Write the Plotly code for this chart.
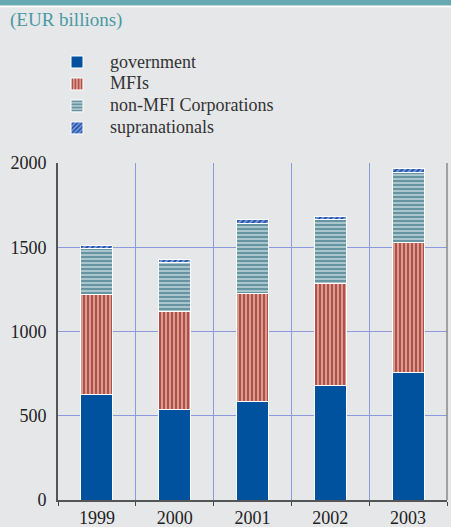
import plotly.graph_objects as go

years = ["1999", "2000", "2001", "2002", "2003"]
government = [628, 538, 585, 679, 756]
mfis = [592, 583, 643, 608, 772]
non_mfi = [273, 288, 414, 375, 416]
supranationals = [20, 19, 20, 19, 24]
series_names = ["government", "MFIs", "non-MFI Corporations", "supranationals"]

BG = "#e6e7e9"
GRID = "#8c99dc"
FONT = "Liberation Serif"
W, H = 451, 527
ML, MR, MT, MB = 58, 4, 163, 27
PW, PH = W - ML - MR, H - MT - MB


def px_x(x):
    return (x - ML) / PW


def px_y(y):
    return (H - MB - y) / PH


fig = go.Figure()
fig.add_bar(x=years, y=government, name=" ",
            marker=dict(color="#00529f", line=dict(color="white", width=1)))
fig.add_bar(x=years, y=mfis, name=" ",
            marker=dict(color="#d29a90", line=dict(color="white", width=1),
                        pattern=dict(shape="|", bgcolor="#d49d93", fgcolor="#b2463c",
                                     size=4, solidity=0.45, fillmode="replace")))
fig.add_bar(x=years, y=non_mfi, name=" ",
            marker=dict(color="#a8c2ca", line=dict(color="white", width=1),
                        pattern=dict(shape="-", bgcolor="#abc5cc", fgcolor="#5e8f9c",
                                     size=4, solidity=0.45, fillmode="replace")))
fig.add_bar(x=years, y=supranationals, name=" ",
            marker=dict(color="#6e93d3", line=dict(color="white", width=1),
                        pattern=dict(shape="/", bgcolor="#7c9ed8", fgcolor="#1f4fa8",
                                     size=4, solidity=0.5, fillmode="replace")))

legend_y = [62, 83, 105, 127]
annotations = [
    dict(text="(EUR billions)", xref="paper", yref="paper",
         x=px_x(8), y=px_y(20), xanchor="left", yanchor="middle",
         showarrow=False, font=dict(family=FONT, size=19, color="#4a9aa2")),
]
for name, yy in zip(series_names, legend_y):
    annotations.append(dict(text=name, xref="paper", yref="paper",
                            x=px_x(108), y=px_y(yy), xanchor="left", yanchor="middle",
                            showarrow=False,
                            font=dict(family=FONT, size=18, color="#333333")))

fig.update_layout(
    width=W, height=H,
    barmode="stack", bargap=0.59,
    paper_bgcolor=BG, plot_bgcolor=BG,
    margin=dict(l=ML, r=MR, t=MT, b=MB, pad=0, autoexpand=False),
    font=dict(family=FONT, size=18, color="#222222"),
    showlegend=True,
    legend=dict(x=px_x(57), y=px_y(46), xanchor="left", yanchor="top",
                bgcolor="rgba(0,0,0,0)", font=dict(family=FONT, size=14.6, color="#333333"),
                traceorder="normal", itemwidth=30, tracegroupgap=0),
    xaxis=dict(type="category", tickson="boundaries", showgrid=True, gridcolor=GRID,
               gridwidth=1, ticks="outside", ticklen=4, tickcolor="#444444",
               showline=True, linecolor="#555555", linewidth=2, automargin=False,
               tickfont=dict(family=FONT, size=18, color="#222222")),
    yaxis=dict(range=[0, 2000], tickvals=[0, 500, 1000, 1500, 2000],
               showgrid=True, gridcolor=GRID, gridwidth=1, zeroline=False,
               showline=True, linecolor="#555555", linewidth=2, automargin=False,
               ticks="", ticklabelstandoff=6,
               tickfont=dict(family=FONT, size=18, color="#222222")),
    shapes=[
        dict(type="rect", xref="paper", yref="paper", x0=-0.2, x1=1.05,
             y0=px_y(5.5), y1=px_y(-5),
             fillcolor="#67a9b1", line=dict(width=0), layer="below"),
        dict(type="line", xref="paper", yref="paper", x0=-0.2, x1=1.05,
             y0=px_y(6.5), y1=px_y(6.5),
             line=dict(color="white", width=1.5)),
        dict(type="line", xref="paper", yref="paper", x0=1, x1=1, y0=0, y1=1,
             line=dict(color="#8a8a8a", width=1.5)),
    ],
    annotations=annotations,
)

fig.write_html("out.html",
               config={"displayModeBar": False},
               post_script="document.body.style.margin='0';"
                           "document.body.style.background='#e6e7e9';")
